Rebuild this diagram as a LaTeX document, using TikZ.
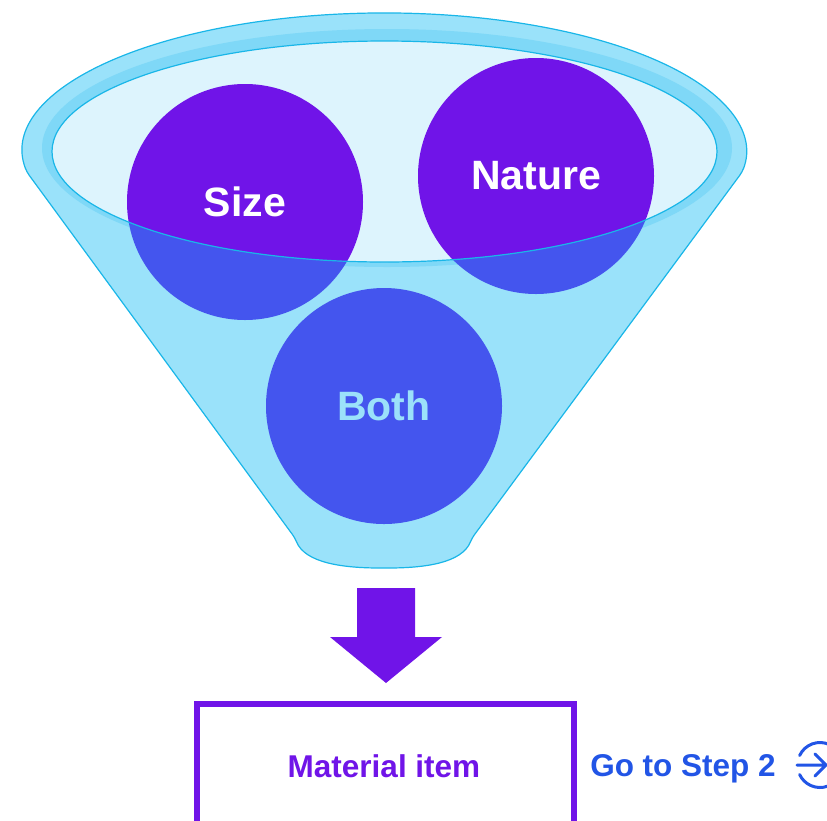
\documentclass[tikz,border=0pt]{standalone}
\usepackage{fontspec}
\setmainfont{Liberation Sans}
\definecolor{funnelfill}{HTML}{9AE2FA}
\definecolor{funnelline}{HTML}{19B6E8}
\definecolor{ringfill}{HTML}{7FD8F7}
\definecolor{innerfill}{HTML}{DDF4FD}
\definecolor{purp}{HTML}{7014E8}
\definecolor{blu}{HTML}{4455EE}
\definecolor{lightblu}{HTML}{9BE1FA}
\definecolor{linkblu}{HTML}{2255E6}
\begin{document}
\begin{tikzpicture}[x=1pt,y=-1pt,
  ball/.style={circle,minimum size=236pt,inner sep=0pt,fill=blu,text=white,
    font=\bfseries\fontsize{41}{41}\selectfont},
  lbl/.style={font=\bfseries\fontsize{31.5}{31.5}\selectfont,anchor=base}]
\useasboundingbox (0,0) rectangle (827,820);
% funnel body
\draw[funnelline,line width=1.2pt,fill=funnelfill,rounded corners=4pt]
  (26.8,172) arc[start angle=171.7,end angle=368.3,x radius=361.5,y radius=139]
  -- (472,538) .. controls (462,563) and (425,568) .. (384,568)
  .. controls (343,568) and (305,563) .. (295,538) -- cycle;
% rim band
\fill[ringfill] (387,148) ellipse[x radius=345,y radius=119];
% circles (lower, tinted)
\node[ball] (size) at (245,202) {};
\node[ball] (nature) at (536,176) {};
\node[ball,text=lightblu] (both) at (384,406) {Both};
% inner ellipse
\begin{scope}
  \clip (384.5,151.5) ellipse[x radius=332.5,y radius=110.5];
  \fill[innerfill] (384.5,151.5) ellipse[x radius=332.5,y radius=110.5];
  \fill[purp] (size) circle[radius=118];
  \fill[purp] (nature) circle[radius=118];
\end{scope}
\draw[funnelline,line width=1.2pt] (384.5,151.5) ellipse[x radius=332.5,y radius=110.5];
\node[font=\bfseries\fontsize{41}{41}\selectfont,text=white] at (size) {Size};
\node[font=\bfseries\fontsize{41}{41}\selectfont,text=white] at (nature) {Nature};
% down arrow
\fill[purp] (357,588) -- (415,588) -- (415,637) -- (442,637) -- (386,683)
  -- (330,637) -- (357,637) -- cycle;
% box
\draw[purp,line width=6pt] (196.5,840) -- (196.5,704) -- (573.5,704) -- (573.5,840);
\node[lbl,text=purp] (item) at (384,777) {Material item};
\node[lbl,text=linkblu] (go) at (683,776) {Go to Step 2};
% icon
\coordinate (ic) at (820,765);
\draw[linkblu,line width=3pt,line cap=round]
  (ic) ++(-155:22.5) arc[start angle=-155,end angle=155,radius=22.5];
\draw[linkblu,line width=3pt,line cap=round,line join=round]
  (797,765) -- (826,765) (815,754) -- (826,765) -- (815,776);
\end{tikzpicture}
\end{document}
